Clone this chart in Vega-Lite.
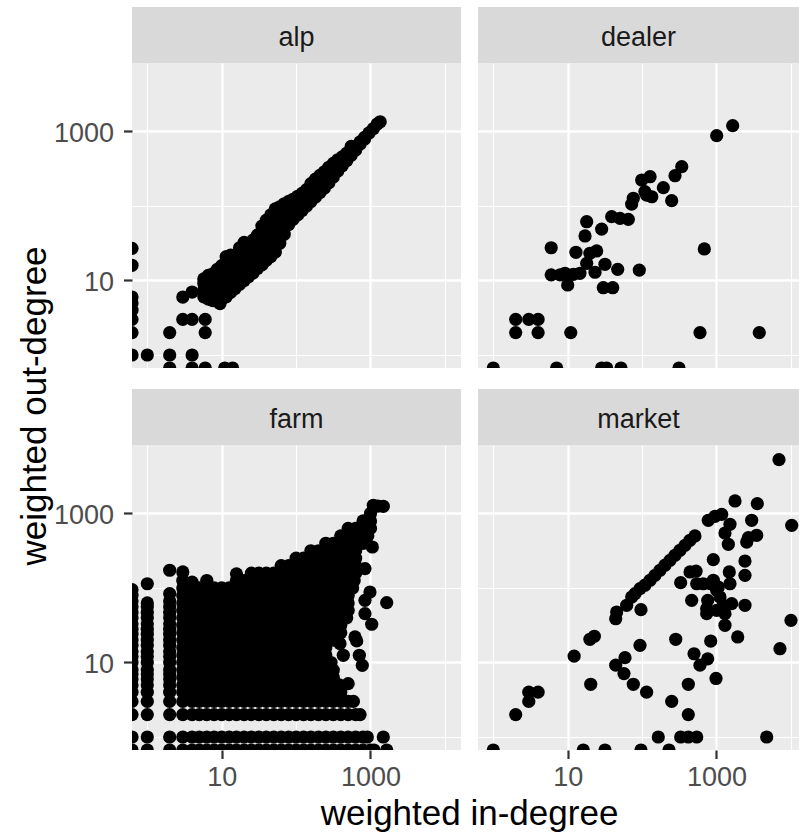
{
"$schema":"https://vega.github.io/schema/vega-lite/v6.json",
"background":"white",
"padding":{"left":0,"top":7,"right":0,"bottom":0},
"autosize":{"type":"pad"},
"config":{"view":{"stroke":null},"font":"Liberation Sans","axis":{"labelFont":"Liberation Sans"},"text":{"font":"Liberation Sans"}},
"datasets":{
"alp":[
{"indeg":0,"outdeg":27},{"indeg":0,"outdeg":16},{"indeg":0,"outdeg":6},{"indeg":0,"outdeg":5},{"indeg":0,"outdeg":4},{"indeg":0,"outdeg":3},{"indeg":0,"outdeg":2},{"indeg":0,"outdeg":1},{"indeg":1,"outdeg":1},{"indeg":2,"outdeg":2},{"indeg":2,"outdeg":1},{"indeg":2,"outdeg":0},{"indeg":3,"outdeg":6},{"indeg":3,"outdeg":3},{"indeg":4,"outdeg":7},{"indeg":4,"outdeg":3},{"indeg":4,"outdeg":1},{"indeg":4,"outdeg":0},{"indeg":6,"outdeg":3},{"indeg":6,"outdeg":2},{"indeg":6,"outdeg":0},{"indeg":11,"outdeg":0},{"indeg":14,"outdeg":0},{"indeg":9.5,"outdeg":4.9},
{"indeg":5.75,"outdeg":6.03},{"indeg":5.75,"outdeg":7.41},{"indeg":5.75,"outdeg":9.12},{"indeg":5.75,"outdeg":10.5},
{"indeg":6.61,"outdeg":5.62},{"indeg":6.61,"outdeg":6.92},{"indeg":6.61,"outdeg":8.51},{"indeg":6.61,"outdeg":10.5},{"indeg":6.61,"outdeg":11.7},
{"indeg":7.59,"outdeg":5.37},{"indeg":7.59,"outdeg":6.61},{"indeg":7.59,"outdeg":8.13},{"indeg":7.59,"outdeg":10},{"indeg":7.59,"outdeg":12.3},
{"indeg":8.71,"outdeg":5.25},{"indeg":8.71,"outdeg":6.46},{"indeg":8.71,"outdeg":7.94},{"indeg":8.71,"outdeg":9.77},{"indeg":8.71,"outdeg":12},{"indeg":8.71,"outdeg":14.1},
{"indeg":10,"outdeg":5.62},{"indeg":10,"outdeg":6.92},{"indeg":10,"outdeg":8.51},{"indeg":10,"outdeg":10.5},{"indeg":10,"outdeg":12.9},{"indeg":10,"outdeg":15.8},
{"indeg":11.5,"outdeg":6.03},{"indeg":11.5,"outdeg":7.41},{"indeg":11.5,"outdeg":9.12},{"indeg":11.5,"outdeg":11.2},{"indeg":11.5,"outdeg":13.8},{"indeg":11.5,"outdeg":17},{"indeg":11.5,"outdeg":20.9},
{"indeg":13.2,"outdeg":6.92},{"indeg":13.2,"outdeg":8.51},{"indeg":13.2,"outdeg":10.5},{"indeg":13.2,"outdeg":12.9},{"indeg":13.2,"outdeg":15.8},{"indeg":13.2,"outdeg":19.5},{"indeg":13.2,"outdeg":21.9},
{"indeg":15.1,"outdeg":7.76},{"indeg":15.1,"outdeg":9.55},{"indeg":15.1,"outdeg":11.7},{"indeg":15.1,"outdeg":14.5},{"indeg":15.1,"outdeg":17.8},{"indeg":15.1,"outdeg":21.9},
{"indeg":17.4,"outdeg":8.91},{"indeg":17.4,"outdeg":11},{"indeg":17.4,"outdeg":13.5},{"indeg":17.4,"outdeg":16.6},{"indeg":17.4,"outdeg":20.4},{"indeg":17.4,"outdeg":25.1},{"indeg":17.4,"outdeg":27.5},
{"indeg":20,"outdeg":10},{"indeg":20,"outdeg":12.3},{"indeg":20,"outdeg":15.1},{"indeg":20,"outdeg":18.6},{"indeg":20,"outdeg":22.9},{"indeg":20,"outdeg":28.2},{"indeg":20,"outdeg":32.4},
{"indeg":22.9,"outdeg":11.2},{"indeg":22.9,"outdeg":13.8},{"indeg":22.9,"outdeg":17},{"indeg":22.9,"outdeg":20.9},{"indeg":22.9,"outdeg":25.7},{"indeg":22.9,"outdeg":31.6},
{"indeg":26.3,"outdeg":12.6},{"indeg":26.3,"outdeg":15.5},{"indeg":26.3,"outdeg":19.1},{"indeg":26.3,"outdeg":23.4},{"indeg":26.3,"outdeg":28.8},{"indeg":26.3,"outdeg":34.7},
{"indeg":30.2,"outdeg":14.5},{"indeg":30.2,"outdeg":17.8},{"indeg":30.2,"outdeg":21.9},{"indeg":30.2,"outdeg":26.9},{"indeg":30.2,"outdeg":33.1},{"indeg":30.2,"outdeg":40.7},
{"indeg":34.7,"outdeg":16.2},{"indeg":34.7,"outdeg":20},{"indeg":34.7,"outdeg":24.5},{"indeg":34.7,"outdeg":30.2},{"indeg":34.7,"outdeg":37.2},{"indeg":34.7,"outdeg":45.7},{"indeg":34.7,"outdeg":53.7},
{"indeg":39.8,"outdeg":18.6},{"indeg":39.8,"outdeg":22.9},{"indeg":39.8,"outdeg":28.2},{"indeg":39.8,"outdeg":34.7},{"indeg":39.8,"outdeg":42.7},{"indeg":39.8,"outdeg":52.5},{"indeg":39.8,"outdeg":64.6},
{"indeg":45.7,"outdeg":20.9},{"indeg":45.7,"outdeg":25.7},{"indeg":45.7,"outdeg":31.6},{"indeg":45.7,"outdeg":38.9},{"indeg":45.7,"outdeg":47.9},{"indeg":45.7,"outdeg":58.9},{"indeg":45.7,"outdeg":72.4},{"indeg":45.7,"outdeg":75.9},
{"indeg":52.5,"outdeg":24},{"indeg":52.5,"outdeg":29.5},{"indeg":52.5,"outdeg":36.3},{"indeg":52.5,"outdeg":44.7},{"indeg":52.5,"outdeg":55},{"indeg":52.5,"outdeg":67.6},{"indeg":52.5,"outdeg":83.2},{"indeg":52.5,"outdeg":91.2},
{"indeg":60.3,"outdeg":31.6},{"indeg":60.3,"outdeg":38.9},{"indeg":60.3,"outdeg":47.9},{"indeg":60.3,"outdeg":58.9},{"indeg":60.3,"outdeg":72.4},{"indeg":60.3,"outdeg":89.1},{"indeg":60.3,"outdeg":97.7},
{"indeg":69.2,"outdeg":41.7},{"indeg":69.2,"outdeg":51.3},{"indeg":69.2,"outdeg":63.1},{"indeg":69.2,"outdeg":77.6},{"indeg":69.2,"outdeg":95.5},{"indeg":69.2,"outdeg":107},
{"indeg":79.4,"outdeg":56.2},{"indeg":79.4,"outdeg":69.2},{"indeg":79.4,"outdeg":85.1},{"indeg":79.4,"outdeg":105},{"indeg":79.4,"outdeg":115},
{"indeg":91.2,"outdeg":66.1},{"indeg":91.2,"outdeg":81.3},{"indeg":91.2,"outdeg":100},{"indeg":91.2,"outdeg":123},
{"indeg":105,"outdeg":75.9},{"indeg":105,"outdeg":93.3},{"indeg":105,"outdeg":115},{"indeg":105,"outdeg":135},
{"indeg":120,"outdeg":87.1},{"indeg":120,"outdeg":107},{"indeg":120,"outdeg":132},{"indeg":120,"outdeg":148},
{"indeg":138,"outdeg":100},{"indeg":138,"outdeg":123},{"indeg":138,"outdeg":151},{"indeg":138,"outdeg":166},
{"indeg":158,"outdeg":115},{"indeg":158,"outdeg":141},{"indeg":158,"outdeg":174},{"indeg":158,"outdeg":200},
{"indeg":182,"outdeg":132},{"indeg":182,"outdeg":162},{"indeg":182,"outdeg":200},{"indeg":182,"outdeg":229},
{"indeg":209,"outdeg":151},{"indeg":209,"outdeg":186},{"indeg":209,"outdeg":229},{"indeg":209,"outdeg":257},
{"indeg":240,"outdeg":174},{"indeg":240,"outdeg":214},{"indeg":240,"outdeg":263},{"indeg":240,"outdeg":288},
{"indeg":275,"outdeg":204},{"indeg":275,"outdeg":251},{"indeg":275,"outdeg":309},{"indeg":275,"outdeg":331},
{"indeg":316,"outdeg":245},{"indeg":316,"outdeg":302},{"indeg":316,"outdeg":372},
{"indeg":363,"outdeg":295},{"indeg":363,"outdeg":363},{"indeg":363,"outdeg":417},
{"indeg":417,"outdeg":347},{"indeg":417,"outdeg":417},{"indeg":417,"outdeg":457},
{"indeg":479,"outdeg":407},{"indeg":479,"outdeg":479},{"indeg":479,"outdeg":513},
{"indeg":550,"outdeg":479},{"indeg":550,"outdeg":562},{"indeg":550,"outdeg":631},
{"indeg":631,"outdeg":562},{"indeg":631,"outdeg":631},
{"indeg":724,"outdeg":676},{"indeg":724,"outdeg":724},
{"indeg":832,"outdeg":794},{"indeg":832,"outdeg":832},
{"indeg":955,"outdeg":955},{"indeg":1096,"outdeg":1096},{"indeg":1230,"outdeg":1259},{"indeg":1349,"outdeg":1349}
],
"dealer":[
{"indeg":1,"outdeg":0},{"indeg":7.1,"outdeg":0},{"indeg":28.6,"outdeg":0},{"indeg":33.4,"outdeg":0},{"indeg":52,"outdeg":0},{"indeg":313,"outdeg":0},
{"indeg":2,"outdeg":3},{"indeg":2,"outdeg":2},{"indeg":3,"outdeg":3},{"indeg":4,"outdeg":3},{"indeg":4,"outdeg":2},{"indeg":11,"outdeg":2},{"indeg":600,"outdeg":2},{"indeg":3760,"outdeg":2},
{"indeg":6,"outdeg":27.5},{"indeg":6,"outdeg":11.9},{"indeg":10,"outdeg":8.7},{"indeg":9.2,"outdeg":12.5},{"indeg":12.9,"outdeg":23.9},{"indeg":14.6,"outdeg":12.5},{"indeg":17.1,"outdeg":39.6},{"indeg":18,"outdeg":61.5},{"indeg":19.9,"outdeg":23.2},{"indeg":24.5,"outdeg":24.9},{"indeg":18,"outdeg":17},{"indeg":23.3,"outdeg":12.9},{"indeg":28.6,"outdeg":49},{"indeg":31.7,"outdeg":16.5},{"indeg":30.1,"outdeg":8},{"indeg":40.3,"outdeg":8},{"indeg":47,"outdeg":14.1},{"indeg":39,"outdeg":71.9},{"indeg":50.5,"outdeg":68.3},{"indeg":65.3,"outdeg":66},{"indeg":72.4,"outdeg":106},{"indeg":76.2,"outdeg":127},{"indeg":91.7,"outdeg":13.8},{"indeg":98.8,"outdeg":223},{"indeg":128,"outdeg":247},{"indeg":115,"outdeg":140},{"indeg":135,"outdeg":133},{"indeg":193,"outdeg":176},{"indeg":250,"outdeg":118},{"indeg":277,"outdeg":255},{"indeg":341,"outdeg":337},{"indeg":686,"outdeg":26.5},{"indeg":1006,"outdeg":879},{"indeg":1650,"outdeg":1197},{"indeg":109,"outdeg":156},{"indeg":7.9,"outdeg":11.9},{"indeg":11.9,"outdeg":12.1}
],
"market":[
{"indeg":1,"outdeg":0},{"indeg":16.2,"outdeg":0},{"indeg":31.7,"outdeg":0},{"indeg":96.6,"outdeg":0},{"indeg":230,"outdeg":0},
{"indeg":165,"outdeg":1},{"indeg":330,"outdeg":1},{"indeg":418,"outdeg":1},{"indeg":542,"outdeg":1},{"indeg":4730,"outdeg":1},
{"indeg":2,"outdeg":2},{"indeg":3,"outdeg":3},{"indeg":3,"outdeg":4},{"indeg":4,"outdeg":4},
{"indeg":12.2,"outdeg":12.2},{"indeg":19.9,"outdeg":20.5},{"indeg":22.8,"outdeg":22.5},{"indeg":20.4,"outdeg":5.1},{"indeg":44.2,"outdeg":38.7},{"indeg":45.5,"outdeg":47.6},{"indeg":62.1,"outdeg":58.6},
{"indeg":72.4,"outdeg":75.7},{"indeg":80.4,"outdeg":83.9},{"indeg":93.8,"outdeg":98},{"indeg":109,"outdeg":109},{"indeg":128,"outdeg":127},{"indeg":149,"outdeg":148},{"indeg":174,"outdeg":173},{"indeg":203,"outdeg":202},{"indeg":237,"outdeg":235},{"indeg":277,"outdeg":275},{"indeg":323,"outdeg":321},{"indeg":377,"outdeg":374},{"indeg":440,"outdeg":437},{"indeg":513,"outdeg":499},
{"indeg":96.6,"outdeg":51.2},{"indeg":93.7,"outdeg":17},{"indeg":44.2,"outdeg":9.2},{"indeg":58.9,"outdeg":11.6},{"indeg":57.1,"outdeg":7.1},{"indeg":76.2,"outdeg":5.1},{"indeg":115,"outdeg":4},{"indeg":250,"outdeg":3},{"indeg":418,"outdeg":2},{"indeg":418,"outdeg":5.1},{"indeg":283,"outdeg":20.5},{"indeg":499,"outdeg":13.1},{"indeg":600,"outdeg":9.2},{"indeg":762,"outdeg":11.2},{"indeg":836,"outdeg":19.4},{"indeg":985,"outdeg":6.1},
{"indeg":330,"outdeg":118},{"indeg":464,"outdeg":68.3},{"indeg":531,"outdeg":168},{"indeg":665,"outdeg":114},{"indeg":762,"outdeg":68.3},{"indeg":738,"outdeg":45.2},{"indeg":906,"outdeg":240},{"indeg":906,"outdeg":127},{"indeg":1057,"outdeg":103},{"indeg":1114,"outdeg":75.7},{"indeg":1234,"outdeg":58.6},{"indeg":1300,"outdeg":45.2},{"indeg":1006,"outdeg":50.1},{"indeg":1600,"outdeg":61.6},{"indeg":1300,"outdeg":31.6},{"indeg":1928,"outdeg":22},{"indeg":1518,"outdeg":114},{"indeg":1486,"outdeg":164},{"indeg":2415,"outdeg":58.6},{"indeg":2415,"outdeg":148},{"indeg":2415,"outdeg":230},{"indeg":2680,"outdeg":473},{"indeg":2547,"outdeg":414},{"indeg":3470,"outdeg":510},{"indeg":2970,"outdeg":811},{"indeg":1442,"outdeg":386},{"indeg":1300,"outdeg":547},{"indeg":1518,"outdeg":716},{"indeg":776,"outdeg":811},{"indeg":955,"outdeg":917},{"indeg":1175,"outdeg":975},{"indeg":1774,"outdeg":1472},{"indeg":3535,"outdeg":1355},{"indeg":6920,"outdeg":5272},{"indeg":10260,"outdeg":694},{"indeg":10030,"outdeg":36.8},{"indeg":7130,"outdeg":15.3},{"indeg":441,"outdeg":164},{"indeg":542,"outdeg":114},{"indeg":836,"outdeg":114},{"indeg":1006,"outdeg":93},{"indeg":738,"outdeg":52.7}
],
"farm":[
{"indeg":0,"outdeg":3},{"indeg":0,"outdeg":4},{"indeg":0,"outdeg":5},{"indeg":0,"outdeg":6},{"indeg":0,"outdeg":7},{"indeg":0,"outdeg":8},{"indeg":0,"outdeg":10},{"indeg":0,"outdeg":12},{"indeg":0,"outdeg":14},{"indeg":0,"outdeg":17},{"indeg":0,"outdeg":20},{"indeg":0,"outdeg":24},{"indeg":0,"outdeg":28},{"indeg":0,"outdeg":33},{"indeg":0,"outdeg":40},{"indeg":0,"outdeg":47},{"indeg":0,"outdeg":56},{"indeg":0,"outdeg":67},{"indeg":0,"outdeg":80},{"indeg":0,"outdeg":95},
{"indeg":1,"outdeg":3},{"indeg":1,"outdeg":4},{"indeg":1,"outdeg":5},{"indeg":1,"outdeg":6},{"indeg":1,"outdeg":7},{"indeg":1,"outdeg":8},{"indeg":1,"outdeg":10},{"indeg":1,"outdeg":12},{"indeg":1,"outdeg":14},{"indeg":1,"outdeg":17},{"indeg":1,"outdeg":20},{"indeg":1,"outdeg":24},{"indeg":1,"outdeg":28},{"indeg":1,"outdeg":33},{"indeg":1,"outdeg":40},{"indeg":1,"outdeg":47},{"indeg":1,"outdeg":56},{"indeg":1,"outdeg":63},{"indeg":1,"outdeg":114},
{"indeg":2,"outdeg":3},{"indeg":2,"outdeg":4},{"indeg":2,"outdeg":5},{"indeg":2,"outdeg":6},{"indeg":2,"outdeg":7},{"indeg":2,"outdeg":8},{"indeg":2,"outdeg":10},{"indeg":2,"outdeg":12},{"indeg":2,"outdeg":14},{"indeg":2,"outdeg":17},{"indeg":2,"outdeg":20},{"indeg":2,"outdeg":24},{"indeg":2,"outdeg":28},{"indeg":2,"outdeg":33},{"indeg":2,"outdeg":40},{"indeg":2,"outdeg":47},{"indeg":2,"outdeg":56},{"indeg":2,"outdeg":67},{"indeg":2,"outdeg":84},{"indeg":2,"outdeg":173},
{"indeg":0,"outdeg":2},{"indeg":1,"outdeg":2},{"indeg":2,"outdeg":2},{"indeg":3,"outdeg":2},{"indeg":4,"outdeg":2},{"indeg":5,"outdeg":2},{"indeg":6.3,"outdeg":2},{"indeg":7.9,"outdeg":2},{"indeg":10,"outdeg":2},{"indeg":12.6,"outdeg":2},{"indeg":15.8,"outdeg":2},{"indeg":20,"outdeg":2},{"indeg":25.1,"outdeg":2},{"indeg":31.6,"outdeg":2},{"indeg":39.8,"outdeg":2},{"indeg":50.1,"outdeg":2},{"indeg":63.1,"outdeg":2},{"indeg":79.4,"outdeg":2},{"indeg":100,"outdeg":2},{"indeg":126,"outdeg":2},{"indeg":158,"outdeg":2},{"indeg":200,"outdeg":2},{"indeg":251,"outdeg":2},{"indeg":316,"outdeg":2},{"indeg":398,"outdeg":2},{"indeg":501,"outdeg":2},{"indeg":631,"outdeg":2},{"indeg":724,"outdeg":2},
{"indeg":0,"outdeg":1},{"indeg":1,"outdeg":1},{"indeg":2,"outdeg":1},{"indeg":3,"outdeg":1},{"indeg":4,"outdeg":1},{"indeg":5,"outdeg":1},{"indeg":6.3,"outdeg":1},{"indeg":7.9,"outdeg":1},{"indeg":10,"outdeg":1},{"indeg":12.6,"outdeg":1},{"indeg":15.8,"outdeg":1},{"indeg":20,"outdeg":1},{"indeg":25.1,"outdeg":1},{"indeg":31.6,"outdeg":1},{"indeg":39.8,"outdeg":1},{"indeg":50.1,"outdeg":1},{"indeg":63.1,"outdeg":1},{"indeg":79.4,"outdeg":1},{"indeg":100,"outdeg":1},{"indeg":126,"outdeg":1},{"indeg":158,"outdeg":1},{"indeg":200,"outdeg":1},{"indeg":251,"outdeg":1},{"indeg":316,"outdeg":1},{"indeg":398,"outdeg":1},{"indeg":501,"outdeg":1},{"indeg":631,"outdeg":1},{"indeg":794,"outdeg":1},{"indeg":906,"outdeg":1},{"indeg":1486,"outdeg":1},
{"indeg":0,"outdeg":0},{"indeg":1,"outdeg":0},{"indeg":2,"outdeg":0},{"indeg":3,"outdeg":0},{"indeg":4,"outdeg":0},{"indeg":5,"outdeg":0},{"indeg":6.3,"outdeg":0},{"indeg":7.9,"outdeg":0},{"indeg":10,"outdeg":0},{"indeg":12.6,"outdeg":0},{"indeg":15.8,"outdeg":0},{"indeg":20,"outdeg":0},{"indeg":25.1,"outdeg":0},{"indeg":31.6,"outdeg":0},{"indeg":39.8,"outdeg":0},{"indeg":50.1,"outdeg":0},{"indeg":63.1,"outdeg":0},{"indeg":79.4,"outdeg":0},{"indeg":100,"outdeg":0},{"indeg":126,"outdeg":0},{"indeg":158,"outdeg":0},{"indeg":200,"outdeg":0},{"indeg":251,"outdeg":0},{"indeg":316,"outdeg":0},{"indeg":398,"outdeg":0},{"indeg":501,"outdeg":0},{"indeg":631,"outdeg":0},{"indeg":794,"outdeg":0},{"indeg":1000,"outdeg":0},{"indeg":1114,"outdeg":0},{"indeg":1652,"outdeg":0},
{"indeg":3,"outdeg":3},{"indeg":3,"outdeg":4},{"indeg":3,"outdeg":5},{"indeg":3,"outdeg":6.3},{"indeg":3,"outdeg":7.9},{"indeg":3,"outdeg":10},{"indeg":3,"outdeg":12.6},{"indeg":3,"outdeg":15.8},{"indeg":3,"outdeg":20},{"indeg":3,"outdeg":25.1},{"indeg":3,"outdeg":31.6},{"indeg":3,"outdeg":39.8},{"indeg":3,"outdeg":50.1},{"indeg":3,"outdeg":63.1},{"indeg":3,"outdeg":79.4},{"indeg":3,"outdeg":100},
{"indeg":4,"outdeg":3},{"indeg":4,"outdeg":4},{"indeg":4,"outdeg":5},{"indeg":4,"outdeg":6.3},{"indeg":4,"outdeg":7.9},{"indeg":4,"outdeg":10},{"indeg":4,"outdeg":12.6},{"indeg":4,"outdeg":15.8},{"indeg":4,"outdeg":20},{"indeg":4,"outdeg":25.1},{"indeg":4,"outdeg":31.6},{"indeg":4,"outdeg":39.8},{"indeg":4,"outdeg":50.1},{"indeg":4,"outdeg":63.1},{"indeg":4,"outdeg":79.4},{"indeg":4,"outdeg":100},
{"indeg":5,"outdeg":3},{"indeg":5,"outdeg":4},{"indeg":5,"outdeg":5},{"indeg":5,"outdeg":6.3},{"indeg":5,"outdeg":7.9},{"indeg":5,"outdeg":10},{"indeg":5,"outdeg":12.6},{"indeg":5,"outdeg":15.8},{"indeg":5,"outdeg":20},{"indeg":5,"outdeg":25.1},{"indeg":5,"outdeg":31.6},{"indeg":5,"outdeg":39.8},{"indeg":5,"outdeg":50.1},{"indeg":5,"outdeg":63.1},{"indeg":5,"outdeg":79.4},{"indeg":5,"outdeg":100},
{"indeg":6.3,"outdeg":3},{"indeg":6.3,"outdeg":4},{"indeg":6.3,"outdeg":5},{"indeg":6.3,"outdeg":6.3},{"indeg":6.3,"outdeg":7.9},{"indeg":6.3,"outdeg":10},{"indeg":6.3,"outdeg":12.6},{"indeg":6.3,"outdeg":15.8},{"indeg":6.3,"outdeg":20},{"indeg":6.3,"outdeg":25.1},{"indeg":6.3,"outdeg":31.6},{"indeg":6.3,"outdeg":39.8},{"indeg":6.3,"outdeg":50.1},{"indeg":6.3,"outdeg":63.1},{"indeg":6.3,"outdeg":79.4},{"indeg":6.3,"outdeg":100},
{"indeg":7.9,"outdeg":3},{"indeg":7.9,"outdeg":4},{"indeg":7.9,"outdeg":5},{"indeg":7.9,"outdeg":6.3},{"indeg":7.9,"outdeg":7.9},{"indeg":7.9,"outdeg":10},{"indeg":7.9,"outdeg":12.6},{"indeg":7.9,"outdeg":15.8},{"indeg":7.9,"outdeg":20},{"indeg":7.9,"outdeg":25.1},{"indeg":7.9,"outdeg":31.6},{"indeg":7.9,"outdeg":39.8},{"indeg":7.9,"outdeg":50.1},{"indeg":7.9,"outdeg":63.1},{"indeg":7.9,"outdeg":79.4},{"indeg":7.9,"outdeg":100},
{"indeg":10,"outdeg":3},{"indeg":10,"outdeg":4},{"indeg":10,"outdeg":5},{"indeg":10,"outdeg":6.3},{"indeg":10,"outdeg":7.9},{"indeg":10,"outdeg":10},{"indeg":10,"outdeg":12.6},{"indeg":10,"outdeg":15.8},{"indeg":10,"outdeg":20},{"indeg":10,"outdeg":25.1},{"indeg":10,"outdeg":31.6},{"indeg":10,"outdeg":39.8},{"indeg":10,"outdeg":50.1},{"indeg":10,"outdeg":63.1},{"indeg":10,"outdeg":79.4},{"indeg":10,"outdeg":100},
{"indeg":12.6,"outdeg":3},{"indeg":12.6,"outdeg":4},{"indeg":12.6,"outdeg":5},{"indeg":12.6,"outdeg":6.3},{"indeg":12.6,"outdeg":7.9},{"indeg":12.6,"outdeg":10},{"indeg":12.6,"outdeg":12.6},{"indeg":12.6,"outdeg":15.8},{"indeg":12.6,"outdeg":20},{"indeg":12.6,"outdeg":25.1},{"indeg":12.6,"outdeg":31.6},{"indeg":12.6,"outdeg":39.8},{"indeg":12.6,"outdeg":50.1},{"indeg":12.6,"outdeg":63.1},{"indeg":12.6,"outdeg":79.4},{"indeg":12.6,"outdeg":100},
{"indeg":15.8,"outdeg":3},{"indeg":15.8,"outdeg":4},{"indeg":15.8,"outdeg":5},{"indeg":15.8,"outdeg":6.3},{"indeg":15.8,"outdeg":7.9},{"indeg":15.8,"outdeg":10},{"indeg":15.8,"outdeg":12.6},{"indeg":15.8,"outdeg":15.8},{"indeg":15.8,"outdeg":20},{"indeg":15.8,"outdeg":25.1},{"indeg":15.8,"outdeg":31.6},{"indeg":15.8,"outdeg":39.8},{"indeg":15.8,"outdeg":50.1},{"indeg":15.8,"outdeg":63.1},{"indeg":15.8,"outdeg":79.4},{"indeg":15.8,"outdeg":100},{"indeg":15.8,"outdeg":126},
{"indeg":20,"outdeg":3},{"indeg":20,"outdeg":4},{"indeg":20,"outdeg":5},{"indeg":20,"outdeg":6.3},{"indeg":20,"outdeg":7.9},{"indeg":20,"outdeg":10},{"indeg":20,"outdeg":12.6},{"indeg":20,"outdeg":15.8},{"indeg":20,"outdeg":20},{"indeg":20,"outdeg":25.1},{"indeg":20,"outdeg":31.6},{"indeg":20,"outdeg":39.8},{"indeg":20,"outdeg":50.1},{"indeg":20,"outdeg":63.1},{"indeg":20,"outdeg":79.4},{"indeg":20,"outdeg":100},{"indeg":20,"outdeg":126},
{"indeg":25.1,"outdeg":3},{"indeg":25.1,"outdeg":4},{"indeg":25.1,"outdeg":5},{"indeg":25.1,"outdeg":6.3},{"indeg":25.1,"outdeg":7.9},{"indeg":25.1,"outdeg":10},{"indeg":25.1,"outdeg":12.6},{"indeg":25.1,"outdeg":15.8},{"indeg":25.1,"outdeg":20},{"indeg":25.1,"outdeg":25.1},{"indeg":25.1,"outdeg":31.6},{"indeg":25.1,"outdeg":39.8},{"indeg":25.1,"outdeg":50.1},{"indeg":25.1,"outdeg":63.1},{"indeg":25.1,"outdeg":79.4},{"indeg":25.1,"outdeg":100},{"indeg":25.1,"outdeg":126},{"indeg":25.1,"outdeg":158},
{"indeg":31.6,"outdeg":3},{"indeg":31.6,"outdeg":4},{"indeg":31.6,"outdeg":5},{"indeg":31.6,"outdeg":6.3},{"indeg":31.6,"outdeg":7.9},{"indeg":31.6,"outdeg":10},{"indeg":31.6,"outdeg":12.6},{"indeg":31.6,"outdeg":15.8},{"indeg":31.6,"outdeg":20},{"indeg":31.6,"outdeg":25.1},{"indeg":31.6,"outdeg":31.6},{"indeg":31.6,"outdeg":39.8},{"indeg":31.6,"outdeg":50.1},{"indeg":31.6,"outdeg":63.1},{"indeg":31.6,"outdeg":79.4},{"indeg":31.6,"outdeg":100},{"indeg":31.6,"outdeg":126},{"indeg":31.6,"outdeg":158},
{"indeg":39.8,"outdeg":3},{"indeg":39.8,"outdeg":4},{"indeg":39.8,"outdeg":5},{"indeg":39.8,"outdeg":6.3},{"indeg":39.8,"outdeg":7.9},{"indeg":39.8,"outdeg":10},{"indeg":39.8,"outdeg":12.6},{"indeg":39.8,"outdeg":15.8},{"indeg":39.8,"outdeg":20},{"indeg":39.8,"outdeg":25.1},{"indeg":39.8,"outdeg":31.6},{"indeg":39.8,"outdeg":39.8},{"indeg":39.8,"outdeg":50.1},{"indeg":39.8,"outdeg":63.1},{"indeg":39.8,"outdeg":79.4},{"indeg":39.8,"outdeg":100},{"indeg":39.8,"outdeg":126},{"indeg":39.8,"outdeg":158},
{"indeg":50.1,"outdeg":3},{"indeg":50.1,"outdeg":4},{"indeg":50.1,"outdeg":5},{"indeg":50.1,"outdeg":6.3},{"indeg":50.1,"outdeg":7.9},{"indeg":50.1,"outdeg":10},{"indeg":50.1,"outdeg":12.6},{"indeg":50.1,"outdeg":15.8},{"indeg":50.1,"outdeg":20},{"indeg":50.1,"outdeg":25.1},{"indeg":50.1,"outdeg":31.6},{"indeg":50.1,"outdeg":39.8},{"indeg":50.1,"outdeg":50.1},{"indeg":50.1,"outdeg":63.1},{"indeg":50.1,"outdeg":79.4},{"indeg":50.1,"outdeg":100},{"indeg":50.1,"outdeg":126},{"indeg":50.1,"outdeg":158},
{"indeg":63.1,"outdeg":3},{"indeg":63.1,"outdeg":4},{"indeg":63.1,"outdeg":5},{"indeg":63.1,"outdeg":6.3},{"indeg":63.1,"outdeg":7.9},{"indeg":63.1,"outdeg":10},{"indeg":63.1,"outdeg":12.6},{"indeg":63.1,"outdeg":15.8},{"indeg":63.1,"outdeg":20},{"indeg":63.1,"outdeg":25.1},{"indeg":63.1,"outdeg":31.6},{"indeg":63.1,"outdeg":39.8},{"indeg":63.1,"outdeg":50.1},{"indeg":63.1,"outdeg":63.1},{"indeg":63.1,"outdeg":79.4},{"indeg":63.1,"outdeg":100},{"indeg":63.1,"outdeg":126},{"indeg":63.1,"outdeg":158},{"indeg":63.1,"outdeg":200},
{"indeg":79.4,"outdeg":3},{"indeg":79.4,"outdeg":4},{"indeg":79.4,"outdeg":5},{"indeg":79.4,"outdeg":6.3},{"indeg":79.4,"outdeg":7.9},{"indeg":79.4,"outdeg":10},{"indeg":79.4,"outdeg":12.6},{"indeg":79.4,"outdeg":15.8},{"indeg":79.4,"outdeg":20},{"indeg":79.4,"outdeg":25.1},{"indeg":79.4,"outdeg":31.6},{"indeg":79.4,"outdeg":39.8},{"indeg":79.4,"outdeg":50.1},{"indeg":79.4,"outdeg":63.1},{"indeg":79.4,"outdeg":79.4},{"indeg":79.4,"outdeg":100},{"indeg":79.4,"outdeg":126},{"indeg":79.4,"outdeg":158},{"indeg":79.4,"outdeg":200},
{"indeg":100,"outdeg":3},{"indeg":100,"outdeg":4},{"indeg":100,"outdeg":5},{"indeg":100,"outdeg":6.3},{"indeg":100,"outdeg":7.9},{"indeg":100,"outdeg":10},{"indeg":100,"outdeg":12.6},{"indeg":100,"outdeg":15.8},{"indeg":100,"outdeg":20},{"indeg":100,"outdeg":25.1},{"indeg":100,"outdeg":31.6},{"indeg":100,"outdeg":39.8},{"indeg":100,"outdeg":50.1},{"indeg":100,"outdeg":63.1},{"indeg":100,"outdeg":79.4},{"indeg":100,"outdeg":100},{"indeg":100,"outdeg":126},{"indeg":100,"outdeg":158},{"indeg":100,"outdeg":200},{"indeg":100,"outdeg":251},
{"indeg":126,"outdeg":3},{"indeg":126,"outdeg":4},{"indeg":126,"outdeg":5},{"indeg":126,"outdeg":6.3},{"indeg":126,"outdeg":7.9},{"indeg":126,"outdeg":10},{"indeg":126,"outdeg":12.6},{"indeg":126,"outdeg":15.8},{"indeg":126,"outdeg":20},{"indeg":126,"outdeg":25.1},{"indeg":126,"outdeg":31.6},{"indeg":126,"outdeg":39.8},{"indeg":126,"outdeg":50.1},{"indeg":126,"outdeg":63.1},{"indeg":126,"outdeg":79.4},{"indeg":126,"outdeg":100},{"indeg":126,"outdeg":126},{"indeg":126,"outdeg":158},{"indeg":126,"outdeg":200},{"indeg":126,"outdeg":251},
{"indeg":158,"outdeg":3},{"indeg":158,"outdeg":4},{"indeg":158,"outdeg":5},{"indeg":158,"outdeg":6.3},{"indeg":158,"outdeg":7.9},{"indeg":158,"outdeg":10},{"indeg":158,"outdeg":12.6},{"indeg":158,"outdeg":15.8},{"indeg":158,"outdeg":20},{"indeg":158,"outdeg":25.1},{"indeg":158,"outdeg":31.6},{"indeg":158,"outdeg":39.8},{"indeg":158,"outdeg":50.1},{"indeg":158,"outdeg":63.1},{"indeg":158,"outdeg":79.4},{"indeg":158,"outdeg":100},{"indeg":158,"outdeg":126},{"indeg":158,"outdeg":158},{"indeg":158,"outdeg":200},{"indeg":158,"outdeg":251},{"indeg":158,"outdeg":316},
{"indeg":200,"outdeg":3},{"indeg":200,"outdeg":4},{"indeg":200,"outdeg":5},{"indeg":200,"outdeg":6.3},{"indeg":200,"outdeg":7.9},{"indeg":200,"outdeg":10},{"indeg":200,"outdeg":12.6},{"indeg":200,"outdeg":15.8},{"indeg":200,"outdeg":20},{"indeg":200,"outdeg":25.1},{"indeg":200,"outdeg":31.6},{"indeg":200,"outdeg":39.8},{"indeg":200,"outdeg":50.1},{"indeg":200,"outdeg":63.1},{"indeg":200,"outdeg":79.4},{"indeg":200,"outdeg":100},{"indeg":200,"outdeg":126},{"indeg":200,"outdeg":158},{"indeg":200,"outdeg":200},{"indeg":200,"outdeg":251},{"indeg":200,"outdeg":316},
{"indeg":251,"outdeg":3},{"indeg":251,"outdeg":4},{"indeg":251,"outdeg":5},{"indeg":251,"outdeg":6.3},{"indeg":251,"outdeg":7.9},{"indeg":251,"outdeg":10},{"indeg":251,"outdeg":12.6},{"indeg":251,"outdeg":15.8},{"indeg":251,"outdeg":20},{"indeg":251,"outdeg":25.1},{"indeg":251,"outdeg":31.6},{"indeg":251,"outdeg":39.8},{"indeg":251,"outdeg":50.1},{"indeg":251,"outdeg":63.1},{"indeg":251,"outdeg":79.4},{"indeg":251,"outdeg":100},{"indeg":251,"outdeg":126},{"indeg":251,"outdeg":158},{"indeg":251,"outdeg":200},{"indeg":251,"outdeg":251},{"indeg":251,"outdeg":316},{"indeg":251,"outdeg":398},
{"indeg":316,"outdeg":3},{"indeg":316,"outdeg":4},{"indeg":316,"outdeg":5},{"indeg":316,"outdeg":6.3},{"indeg":316,"outdeg":7.9},{"indeg":316,"outdeg":20},{"indeg":316,"outdeg":25.1},{"indeg":316,"outdeg":31.6},{"indeg":316,"outdeg":39.8},{"indeg":316,"outdeg":50.1},{"indeg":316,"outdeg":63.1},{"indeg":316,"outdeg":79.4},{"indeg":316,"outdeg":100},{"indeg":316,"outdeg":126},{"indeg":316,"outdeg":158},{"indeg":316,"outdeg":200},{"indeg":316,"outdeg":251},{"indeg":316,"outdeg":316},{"indeg":316,"outdeg":398},
{"indeg":398,"outdeg":3},{"indeg":398,"outdeg":4},{"indeg":398,"outdeg":25.1},{"indeg":398,"outdeg":31.6},{"indeg":398,"outdeg":39.8},{"indeg":398,"outdeg":50.1},{"indeg":398,"outdeg":63.1},{"indeg":398,"outdeg":79.4},{"indeg":398,"outdeg":100},{"indeg":398,"outdeg":126},{"indeg":398,"outdeg":158},{"indeg":398,"outdeg":200},{"indeg":398,"outdeg":251},{"indeg":398,"outdeg":316},{"indeg":398,"outdeg":398},{"indeg":398,"outdeg":501},
{"indeg":501,"outdeg":3},{"indeg":501,"outdeg":50.1},{"indeg":501,"outdeg":63.1},{"indeg":501,"outdeg":79.4},{"indeg":501,"outdeg":100},{"indeg":501,"outdeg":126},{"indeg":501,"outdeg":158},{"indeg":501,"outdeg":200},{"indeg":501,"outdeg":251},{"indeg":501,"outdeg":316},{"indeg":501,"outdeg":398},{"indeg":501,"outdeg":501},{"indeg":501,"outdeg":631},
{"indeg":631,"outdeg":158},{"indeg":631,"outdeg":200},{"indeg":631,"outdeg":251},{"indeg":631,"outdeg":316},{"indeg":631,"outdeg":398},{"indeg":631,"outdeg":501},{"indeg":631,"outdeg":631},
{"indeg":794,"outdeg":398},{"indeg":794,"outdeg":501},{"indeg":794,"outdeg":631},{"indeg":794,"outdeg":794},
{"indeg":1000,"outdeg":631},{"indeg":1000,"outdeg":794},{"indeg":1000,"outdeg":1000},{"indeg":1259,"outdeg":1259},{"indeg":920,"outdeg":501},{"indeg":920,"outdeg":631},
{"indeg":3,"outdeg":126},{"indeg":3,"outdeg":164},{"indeg":4,"outdeg":120},{"indeg":6.3,"outdeg":126},{"indeg":15.8,"outdeg":155},{"indeg":589,"outdeg":3},{"indeg":380,"outdeg":5},{"indeg":295,"outdeg":10},{"indeg":479,"outdeg":39.8},{"indeg":575,"outdeg":100},{"indeg":603,"outdeg":126},
{"indeg":1059,"outdeg":355},{"indeg":843,"outdeg":182},{"indeg":984,"outdeg":88.3},{"indeg":843,"outdeg":68.2},{"indeg":843,"outdeg":45.2},{"indeg":1038,"outdeg":32.6},{"indeg":619,"outdeg":22},{"indeg":653,"outdeg":19.5},{"indeg":389,"outdeg":17.9},{"indeg":431,"outdeg":12.5},{"indeg":708,"outdeg":12.5},{"indeg":776,"outdeg":9.16},{"indeg":501,"outdeg":5.2},{"indeg":1652,"outdeg":63.5},{"indeg":1091,"outdeg":1288},{"indeg":1486,"outdeg":1250}
]
},
"spacing":-17,
"hconcat":[
{"width":70,"height":798,"view":{"fill":null,"stroke":null},
 "data":{"values":[{"label":"weighted out-degree"}]},
 "mark":{"type":"text","angle":270,"fontSize":35,"font":"Liberation Sans","color":"#000000","baseline":"middle","align":"center"},
 "encoding":{"text":{"field":"label","type":"nominal"}}},
{"spacing":0,"vconcat":[
 {"columns":2,"align":"each","spacing":{"row":19,"column":17},"concat":[
  {"spacing":0,"vconcat":[
   {"width":329,"height":56,"view":{"fill":"#D9D9D9","stroke":null},"data":{"values":[{"panel":"alp"}]},
    "mark":{"type":"text","fontSize":27,"color":"#1A1A1A","baseline":"middle","align":"center","dy":3},
    "encoding":{"text":{"field":"panel","type":"nominal"}}},
   {"width":329,"height":305,"view":{"fill":"#EBEBEB","stroke":null},"data":{"name":"alp"},
    "mark":{"type":"circle","size":175,"color":"#000000","opacity":1,"clip":true},
    "encoding":{
     "x":{"field":"indeg","type":"quantitative","scale":{"type":"log","domain":[0.6229,16461],"clamp":true,"nice":false,"zero":false},
      "axis":{"values":[1,10,100,1000,10000],"labels":false,"ticks":false,"domain":false,"grid":true,"gridColor":"#FFFFFF","gridOpacity":1,"gridWidth":{"condition":{"test":"datum.value == 10 || datum.value == 1000","value":2.3},"value":1.15},"title":null}},
     "y":{"field":"outdeg","type":"quantitative","scale":{"type":"log","domain":[0.669,8303],"clamp":true,"nice":false,"zero":false},
      "axis":{"values":[1,10,100,1000],"format":"d","labelExpr":"datum.value == 10 || datum.value == 1000 ? datum.label : ''","labelFontSize":27,"labelColor":"#4D4D4D","labelPadding":10,"labelOffset":2,"labelOverlap":false,"labelBound":false,"labelFlush":false,"ticks":true,"tickSize":8.5,"tickWidth":2.2,"tickColor":"#333333","tickOpacity":{"condition":{"test":"datum.value == 10 || datum.value == 1000","value":1},"value":0},"domain":false,"grid":true,"gridColor":"#FFFFFF","gridOpacity":1,"gridWidth":{"condition":{"test":"datum.value == 10 || datum.value == 1000","value":2.3},"value":1.15},"title":null}}
    }}
  ]},
  {"spacing":0,"vconcat":[
   {"width":321,"height":56,"view":{"fill":"#D9D9D9","stroke":null},"data":{"values":[{"panel":"dealer"}]},
    "mark":{"type":"text","fontSize":27,"color":"#1A1A1A","baseline":"middle","align":"center","dy":3},
    "encoding":{"text":{"field":"panel","type":"nominal"}}},
   {"width":321,"height":305,"view":{"fill":"#EBEBEB","stroke":null},"data":{"name":"dealer"},
    "mark":{"type":"circle","size":175,"color":"#000000","opacity":1,"clip":true},
    "encoding":{
     "x":{"field":"indeg","type":"quantitative","scale":{"type":"log","domain":[0.6229,12851],"clamp":true,"nice":false,"zero":false},
      "axis":{"values":[1,10,100,1000,10000],"labels":false,"ticks":false,"domain":false,"grid":true,"gridColor":"#FFFFFF","gridOpacity":1,"gridWidth":{"condition":{"test":"datum.value == 10 || datum.value == 1000","value":2.3},"value":1.15},"title":null}},
     "y":{"field":"outdeg","type":"quantitative","scale":{"type":"log","domain":[0.669,8303],"clamp":true,"nice":false,"zero":false},
      "axis":{"values":[1,10,100,1000],"labels":false,"ticks":false,"domain":false,"grid":true,"gridColor":"#FFFFFF","gridOpacity":1,"gridWidth":{"condition":{"test":"datum.value == 10 || datum.value == 1000","value":2.3},"value":1.15},"title":null}}
    }}
  ]},
  {"spacing":0,"vconcat":[
   {"width":329,"height":56,"view":{"fill":"#D9D9D9","stroke":null},"data":{"values":[{"panel":"farm"}]},
    "mark":{"type":"text","fontSize":27,"color":"#1A1A1A","baseline":"middle","align":"center","dy":3},
    "encoding":{"text":{"field":"panel","type":"nominal"}}},
   {"width":329,"height":305,"view":{"fill":"#EBEBEB","stroke":null},"data":{"name":"farm"},
    "mark":{"type":"circle","size":175,"color":"#000000","opacity":1,"clip":true},
    "encoding":{
     "x":{"field":"indeg","type":"quantitative","scale":{"type":"log","domain":[0.6229,16461],"clamp":true,"nice":false,"zero":false},
      "axis":{"values":[1,10,100,1000,10000],"format":"d","labelExpr":"datum.value == 10 || datum.value == 1000 ? datum.label : ''","labelFontSize":27,"labelColor":"#4D4D4D","labelPadding":5.5,"labelOverlap":false,"labelBound":false,"labelFlush":false,"ticks":true,"tickSize":8.5,"tickWidth":2.2,"tickColor":"#333333","tickOpacity":{"condition":{"test":"datum.value == 10 || datum.value == 1000","value":1},"value":0},"domain":false,"grid":true,"gridColor":"#FFFFFF","gridOpacity":1,"gridWidth":{"condition":{"test":"datum.value == 10 || datum.value == 1000","value":2.3},"value":1.15},"title":null}},
     "y":{"field":"outdeg","type":"quantitative","scale":{"type":"log","domain":[0.669,8303],"clamp":true,"nice":false,"zero":false},
      "axis":{"values":[1,10,100,1000],"format":"d","labelExpr":"datum.value == 10 || datum.value == 1000 ? datum.label : ''","labelFontSize":27,"labelColor":"#4D4D4D","labelPadding":10,"labelOffset":2,"labelOverlap":false,"labelBound":false,"labelFlush":false,"ticks":true,"tickSize":8.5,"tickWidth":2.2,"tickColor":"#333333","tickOpacity":{"condition":{"test":"datum.value == 10 || datum.value == 1000","value":1},"value":0},"domain":false,"grid":true,"gridColor":"#FFFFFF","gridOpacity":1,"gridWidth":{"condition":{"test":"datum.value == 10 || datum.value == 1000","value":2.3},"value":1.15},"title":null}}
    }}
  ]},
  {"spacing":0,"vconcat":[
   {"width":321,"height":56,"view":{"fill":"#D9D9D9","stroke":null},"data":{"values":[{"panel":"market"}]},
    "mark":{"type":"text","fontSize":27,"color":"#1A1A1A","baseline":"middle","align":"center","dy":3},
    "encoding":{"text":{"field":"panel","type":"nominal"}}},
   {"width":321,"height":305,"view":{"fill":"#EBEBEB","stroke":null},"data":{"name":"market"},
    "mark":{"type":"circle","size":175,"color":"#000000","opacity":1,"clip":true},
    "encoding":{
     "x":{"field":"indeg","type":"quantitative","scale":{"type":"log","domain":[0.6229,12851],"clamp":true,"nice":false,"zero":false},
      "axis":{"values":[1,10,100,1000,10000],"format":"d","labelExpr":"datum.value == 10 || datum.value == 1000 ? datum.label : ''","labelFontSize":27,"labelColor":"#4D4D4D","labelPadding":5.5,"labelOverlap":false,"labelBound":false,"labelFlush":false,"ticks":true,"tickSize":8.5,"tickWidth":2.2,"tickColor":"#333333","tickOpacity":{"condition":{"test":"datum.value == 10 || datum.value == 1000","value":1},"value":0},"domain":false,"grid":true,"gridColor":"#FFFFFF","gridOpacity":1,"gridWidth":{"condition":{"test":"datum.value == 10 || datum.value == 1000","value":2.3},"value":1.15},"title":null}},
     "y":{"field":"outdeg","type":"quantitative","scale":{"type":"log","domain":[0.669,8303],"clamp":true,"nice":false,"zero":false},
      "axis":{"values":[1,10,100,1000],"labels":false,"ticks":false,"domain":false,"grid":true,"gridColor":"#FFFFFF","gridOpacity":1,"gridWidth":{"condition":{"test":"datum.value == 10 || datum.value == 1000","value":2.3},"value":1.15},"title":null}}
    }}
  ]}
 ]},
 {"width":667,"height":13,"view":{"fill":null,"stroke":null},
  "data":{"values":[{"label":"weighted in-degree"}]},
  "mark":{"type":"text","fontSize":35,"font":"Liberation Sans","color":"#000000","baseline":"top","align":"center","dx":4},
  "encoding":{"text":{"field":"label","type":"nominal"}}}
]}
]
}
